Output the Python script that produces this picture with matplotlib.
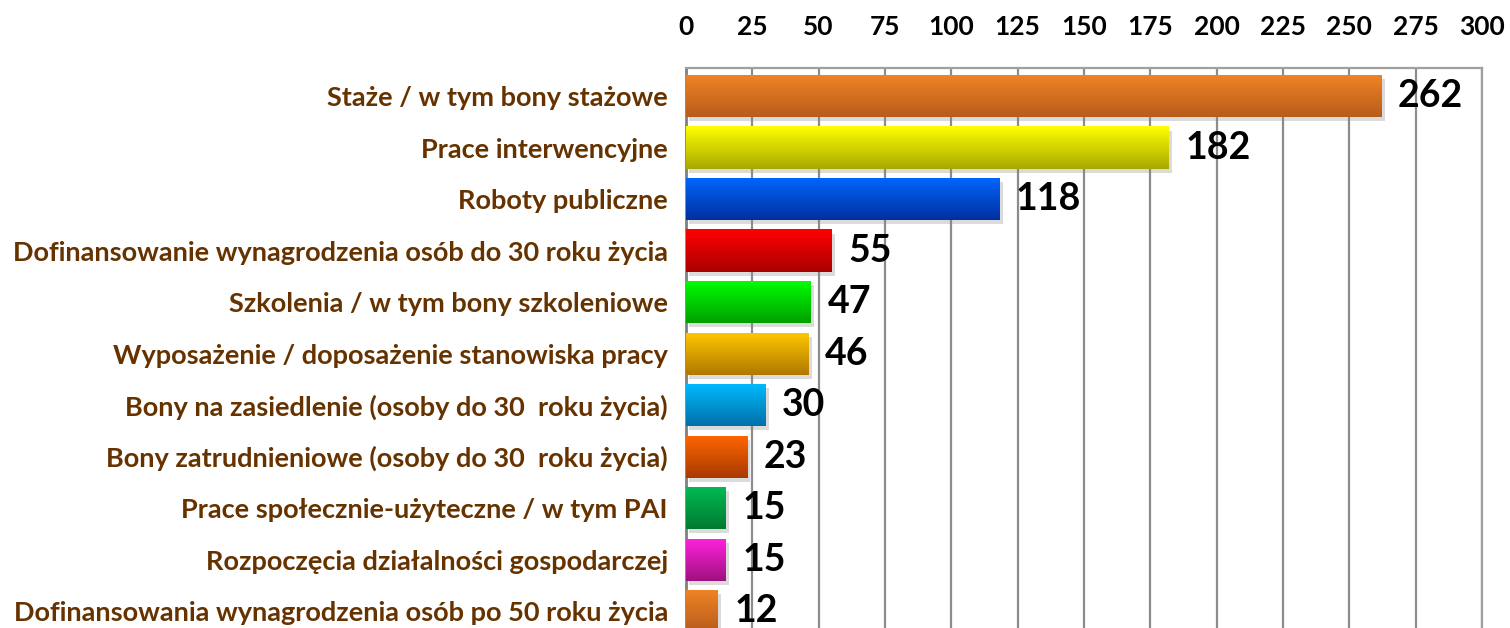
import numpy as np
import matplotlib
matplotlib.use('Agg')
import matplotlib.pyplot as plt
from matplotlib import patheffects
from matplotlib.colors import LinearSegmentedColormap

plt.rcParams['font.family'] = ['Lato', 'DejaVu Sans']

categories = [
    'Staże / w tym bony stażowe',
    'Prace interwencyjne',
    'Roboty publiczne',
    'Dofinansowanie wynagrodzenia osób do 30 roku życia',
    'Szkolenia / w tym bony szkoleniowe',
    'Wyposażenie / doposażenie stanowiska pracy',
    'Bony na zasiedlenie (osoby do 30  roku życia)',
    'Bony zatrudnieniowe (osoby do 30  roku życia)',
    'Prace społecznie-użyteczne / w tym PAI',
    'Rozpoczęcia działalności gospodarczej',
    'Dofinansowania wynagrodzenia osób po 50 roku życia',
]
values = [262, 182, 118, 55, 47, 46, 30, 23, 15, 15, 12]

# gradient colours (top, bottom) for each bar
top_colors = ['#F08426', '#FFFF00', '#0066FF', '#FF0000', '#00FF00', '#FFC800',
              '#00BBFF', '#FF6600', '#00BB55', '#FF22DD', '#F08426']
bottom_colors = ['#B85C1C', '#A8A800', '#0030A0', '#AA0000', '#00A000', '#B07800',
                 '#0070A8', '#A83A00', '#007A30', '#A01080', '#B85C1C']

ticks = np.arange(0, 301, 25)

fig = plt.figure(figsize=(15.1, 6.28), dpi=100)
ax = fig.add_axes([686 / 1510, -0.0143, 796 / 1510, 0.906])

y = np.arange(len(categories))
h = 0.82
bars = ax.barh(y, values, height=h, color=top_colors, zorder=3)

for bar, c1, c2, v in zip(bars, top_colors, bottom_colors, values):
    bar.set_path_effects([patheffects.SimplePatchShadow(offset=(2.5, -3), shadow_rgbFace='#888888', alpha=0.3),
                          patheffects.Normal()])
    cmap = LinearSegmentedColormap.from_list('g', [c1, c2])
    x0, y0 = bar.get_x(), bar.get_y()
    w, hh = bar.get_width(), bar.get_height()
    grad = np.linspace(0, 1, 64).reshape(-1, 1)
    im = ax.imshow(grad, cmap=cmap, aspect='auto', extent=[x0, x0 + w, y0 + hh, y0],
                   origin='upper', zorder=4)
    im.set_clip_path(bar)
    ax.annotate(str(v), xy=(v, bar.get_y() + hh / 2), xytext=(12, 0),
                textcoords='offset points', ha='left', va='center',
                fontsize=27, fontweight='bold', color='black', zorder=5)

ax.set_xlim(0, 300)
ax.set_ylim(10.5, -0.544)
ax.set_xticks(ticks)
ax.xaxis.tick_top()
ax.tick_params(axis='x', length=0, pad=21, labelsize=19)
for lab in ax.get_xticklabels():
    lab.set_fontweight('bold')
ax.set_yticks(y)
ax.set_yticklabels(categories, fontsize=19.5, fontweight='bold', color='#663300')
ax.tick_params(axis='y', length=0, pad=13)
ax.grid(axis='x', color='#8C8C8C', linewidth=1.6, zorder=0)
ax.set_axisbelow(True)
for s in ['top', 'right']:
    ax.spines[s].set_color('#A0A0A0')
    ax.spines[s].set_linewidth(1.6)
ax.spines['left'].set_color('#808080')
ax.spines['left'].set_linewidth(2)
ax.spines['bottom'].set_visible(False)

fig.savefig('out.png', dpi=100)
